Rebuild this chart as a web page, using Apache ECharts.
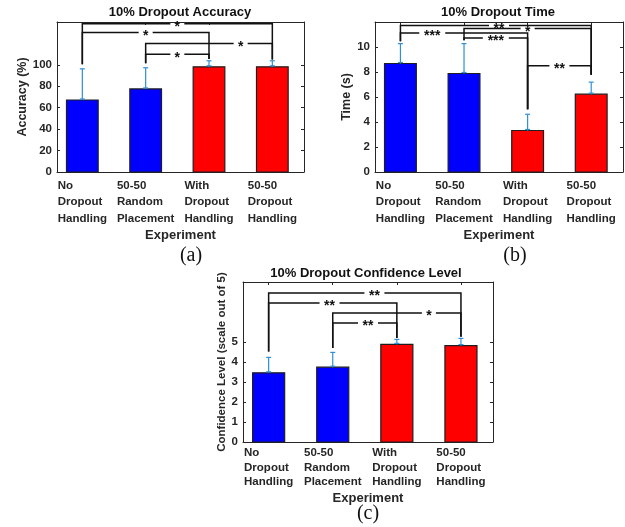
<!DOCTYPE html>
<html><head><meta charset="utf-8">
<script src="https://cdn.jsdelivr.net/npm/echarts@6/dist/echarts.min.js"></script>
<style>html,body{margin:0;padding:0;background:#fff}#c{width:625px;height:527px}</style>
</head><body><div id="c"></div>
<script>
// ---------------- DATA ----------------
const categories = ['No\nDropout\nHandling', '50-50\nRandom\nPlacement', 'With\nDropout\nHandling', '50-50\nDropout\nHandling'];
const categoryPositions = [1, 2, 3, 4];

const accuracyMean = [67.2, 77.5, 98.2, 98.2];
const accuracyUpper = [96.3, 97.3, 103.8, 103.8];
const accuracyTicks = [0, 20, 40, 60, 80, 100];
// [from, to, height, label position]
const accuracyBrackets = [[1, 4, 138.3, 2.5], [1, 3, 130.2, 2.0], [2, 4, 119.9, 3.5], [2, 3, 109.8, 2.5]];
const accuracyStars = ['*', '*', '*', '*'];
const accuracyLegBase = [100.5, 101.5, 105.5, 105];

const timeMean = [8.68, 7.88, 3.32, 6.23];
const timeUpper = [10.27, 10.27, 4.62, 7.19];
const timeTicks = [0, 2, 4, 6, 8, 10];
const timeBrackets = [[1, 4, 11.72, 2.55], [2, 4, 11.48, 3.0], [1, 3, 11.13, 1.5], [2, 3, 10.73, 2.5], [3, 4, 8.5, 3.5]];
const timeStars = ['**', '*', '***', '***', '**'];
const timeLegBase = [10.46, 10.55, 5.02, 7.78];

const confMean = [3.46, 3.74, 4.88, 4.82];
const confUpper = [4.23, 4.48, 5.13, 5.18];
const confTicks = [0, 1, 2, 3, 4, 5];
const confBrackets = [[1, 4, 7.45, 2.65], [1, 3, 6.95, 1.95], [2, 4, 6.45, 3.5], [2, 3, 5.95, 2.55]];
const confStars = ['**', '**', '*', '**'];
const confLegBase = [4.53, 4.7, 5.2, 5.26];

// ---------------- STYLE / LAYOUT ----------------
const FF = '"Liberation Sans", Arial, sans-serif';
const AX = '#262626';
const barColors = ['#0000ff', '#0000ff', '#ff0000', '#ff0000'];
const ERR = '#2f8fd8';
const BW = 0.5;

const panels = [
  { grid: { left: 57, top: 22, width: 247, height: 150 }, yMax: 140, ticks: accuracyTicks,
    mean: accuracyMean, upper: accuracyUpper, brackets: accuracyBrackets, stars: accuracyStars, legBase: accuracyLegBase,
    yName: 'Accuracy (%)', yNameGap: 27, yNameSize: 12.5, lineH: 16.8, labelMargin: 5, xNameGap: 57,
    title: '10% Dropout Accuracy', titleX: 180, titleY: 6, cap: '(a)', capX: 191, capY: 256 },
  { grid: { left: 375, top: 22, width: 248, height: 150 }, yMax: 12, ticks: timeTicks,
    mean: timeMean, upper: timeUpper, brackets: timeBrackets, stars: timeStars, legBase: timeLegBase,
    yName: 'Time (s)', yNameGap: 19, yNameSize: 12.5, lineH: 16.8, labelMargin: 5, xNameGap: 57,
    title: '10% Dropout Time', titleX: 498, titleY: 6, cap: '(b)', capX: 515, capY: 256 },
  { grid: { left: 243, top: 282, width: 250, height: 160 }, yMax: 8, ticks: confTicks,
    mean: confMean, upper: confUpper, brackets: confBrackets, stars: confStars, legBase: confLegBase,
    yName: 'Confidence Level (scale out of 5)', yNameGap: 14, yNameSize: 11.5, lineH: 14.5, labelMargin: 4, xNameGap: 50,
    title: '10% Dropout Confidence Level', titleX: 366, titleY: 267, cap: '(c)', capX: 368, capY: 514 }
];

const option = { animation: false, backgroundColor: '#fff', grid: [], xAxis: [], yAxis: [], series: [], title: [], graphic: [] };

function richLabel(v) {
  const idx = Math.round(v) - 1;
  return categories[idx].split('\n').map(s => '{l|' + s + '}').join('\n');
}

panels.forEach((p, k) => {
  option.grid.push(Object.assign({ containLabel: false }, p.grid));
  const axLine = { show: true, onZero: false, lineStyle: { color: AX, width: 1 } };
  const tick = (vals) => ({ show: true, inside: true, length: 3, customValues: vals, lineStyle: { color: AX, width: 1 } });
  // bottom x
  option.xAxis.push({
    type: 'value', gridIndex: k, min: 0.6, max: 4.5, position: 'bottom',
    axisLine: axLine, axisTick: tick(categoryPositions), splitLine: { show: false },
    axisLabel: { show: true, customValues: categoryPositions, formatter: richLabel, margin: p.labelMargin,
      color: AX, fontFamily: FF, fontWeight: 'bold', fontSize: 11.5,
      rich: { l: { align: 'left', lineHeight: p.lineH, fontSize: 11.5, fontWeight: 'bold', fontFamily: FF, color: AX } } },
    name: 'Experiment', nameLocation: 'middle', nameGap: p.xNameGap,
    nameTextStyle: { fontFamily: FF, fontWeight: 'bold', fontSize: 13, color: AX }
  });
  // top x (box)
  option.xAxis.push({
    type: 'value', gridIndex: k, min: 0.6, max: 4.5, position: 'top',
    axisLine: axLine, axisTick: tick(categoryPositions), axisLabel: { show: false }, splitLine: { show: false }
  });
  // left y
  option.yAxis.push({
    type: 'value', gridIndex: k, min: 0, max: p.yMax, position: 'left',
    axisLine: axLine, axisTick: tick(p.ticks), splitLine: { show: false },
    axisLabel: { customValues: p.ticks, margin: 5, color: AX, fontFamily: FF, fontWeight: 'bold', fontSize: 11.5 },
    name: p.yName, nameLocation: 'middle', nameGap: p.yNameGap,
    nameTextStyle: { fontFamily: FF, fontWeight: 'bold', fontSize: p.yNameSize, color: AX }
  });
  // right y (box)
  option.yAxis.push({
    type: 'value', gridIndex: k, min: 0, max: p.yMax, position: 'right',
    axisLine: axLine, axisTick: tick(p.ticks), axisLabel: { show: false }, splitLine: { show: false }
  });
  const xi = 2 * k, yi = 2 * k;

  // bars
  option.series.push({
    type: 'custom', xAxisIndex: xi, yAxisIndex: yi, z: 3,
    data: categoryPositions.map((x, i) => [x, p.mean[i]]),
    renderItem: (params, api) => {
      const x = api.value(0), v = api.value(1);
      const a = api.coord([x - BW / 2, v]), b = api.coord([x + BW / 2, 0]);
      return { type: 'rect', shape: { x: a[0], y: a[1], width: b[0] - a[0], height: b[1] - a[1] },
        style: { fill: barColors[params.dataIndex], stroke: '#1e1e1e', lineWidth: 1.2 } };
    }
  });
  // error bars
  option.series.push({
    type: 'custom', xAxisIndex: xi, yAxisIndex: yi, z: 4,
    data: categoryPositions.map((x, i) => [x, p.mean[i], p.upper[i]]),
    renderItem: (params, api) => {
      const x = api.value(0);
      const a = api.coord([x, api.value(1)]), b = api.coord([x, api.value(2)]);
      const st = { stroke: ERR, lineWidth: 1.2, fill: 'none' };
      return { type: 'group', children: [
        { type: 'line', shape: { x1: a[0], y1: a[1], x2: b[0], y2: b[1] }, style: st },
        { type: 'line', shape: { x1: b[0] - 2.5, y1: b[1], x2: b[0] + 2.5, y2: b[1] }, style: st },
        { type: 'line', shape: { x1: a[0] - 2.5, y1: a[1] - 1, x2: a[0] + 2.5, y2: a[1] - 1 }, style: st }
      ] };
    }
  });
  // significance brackets
  option.series.push({
    type: 'custom', xAxisIndex: xi, yAxisIndex: yi, z: 5,
    data: p.brackets.map(b => [b[0], b[1], b[2], b[3], p.legBase[b[0] - 1], p.legBase[b[1] - 1]]),
    renderItem: (params, api) => {
      const i = api.value(0), j = api.value(1), y = api.value(2), lx = api.value(3);
      const pI = api.coord([i, y]), pJ = api.coord([j, y]);
      const bI = api.coord([i, api.value(4)]), bJ = api.coord([j, api.value(5)]);
      const pL = api.coord([lx, y]);
      const txt = p.stars[params.dataIndex];
      const half = txt.length * 3 + 4;
      const st = { stroke: '#111', lineWidth: 1.5, fill: 'none' };
      return { type: 'group', children: [
        { type: 'polyline', shape: { points: [bI, pI, [pL[0] - half, pI[1]]] }, style: st },
        { type: 'polyline', shape: { points: [[pL[0] + half, pJ[1]], pJ, bJ] }, style: st },
        { type: 'text', style: { text: txt, x: pL[0], y: pL[1] + 3.5, align: 'center', verticalAlign: 'middle',
          font: 'bold 14px ' + FF, fill: '#111' } }
      ] };
    }
  });

  option.title.push({ text: p.title, left: p.titleX, top: p.titleY, textAlign: 'center', padding: 0,
    textStyle: { fontFamily: FF, fontWeight: 'bold', fontSize: 13, color: '#111' } });
  option.graphic.push({ type: 'text', x: p.capX, y: p.capY,
    style: { text: p.cap, font: '20px "Liberation Serif", "Times New Roman", serif', fill: '#111', align: 'center', verticalAlign: 'middle' } });
});

const chart = echarts.init(document.getElementById('c'), null, { renderer: 'canvas' });
chart.setOption(option);
</script>
</body></html>
